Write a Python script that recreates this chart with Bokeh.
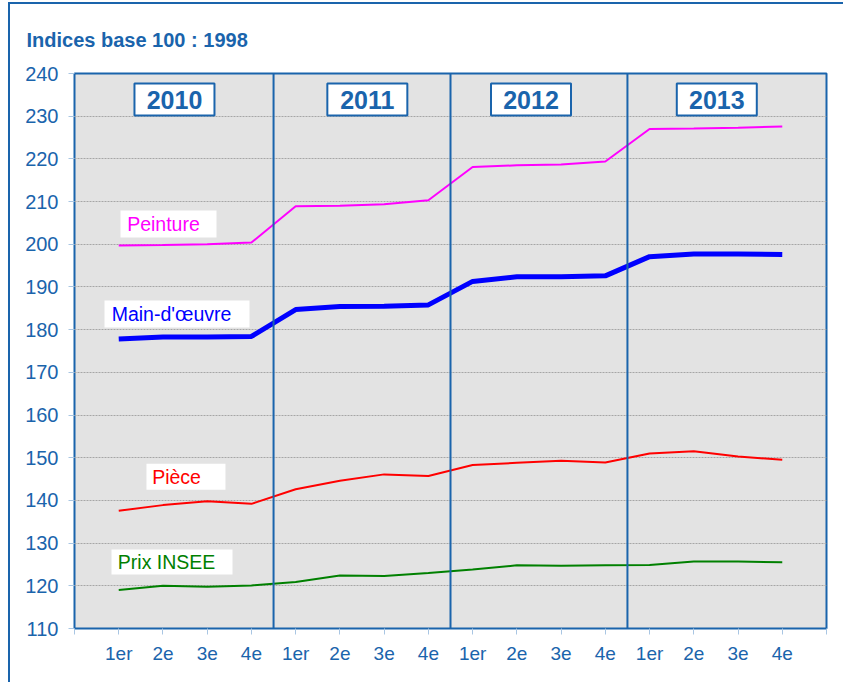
from bokeh.plotting import figure
from bokeh.models import FixedTicker, Span, ColumnDataSource
from bokeh.core.properties import value
from bokeh.embed import file_html
from bokeh.resources import INLINE

# ---- data ----
years = ["2010", "2011", "2012", "2013"]
quarter_labels = ["1er", "2e", "3e", "4e"]
quarters = [q for y in years for q in quarter_labels]

peinture = [199.7, 199.8, 200.0, 200.4, 208.9, 209.0, 209.4, 210.3,
            218.1, 218.5, 218.7, 219.4, 227.0, 227.1, 227.3, 227.6]
main_oeuvre = [177.8, 178.3, 178.3, 178.4, 184.7, 185.4, 185.5, 185.8,
               191.3, 192.4, 192.4, 192.6, 197.1, 197.7, 197.7, 197.6]
piece = [137.6, 138.9, 139.8, 139.2, 142.6, 144.6, 146.1, 145.7,
         148.3, 148.8, 149.3, 148.9, 151.0, 151.5, 150.3, 149.5]
prix_insee = [119.0, 120.0, 119.8, 120.1, 120.9, 122.4, 122.3, 123.0,
              123.8, 124.8, 124.7, 124.8, 124.9, 125.7, 125.7, 125.5]

y_ticks = [110, 120, 130, 140, 150, 160, 170, 180, 190, 200, 210, 220, 230, 240]
title_text = "Indices base 100 : 1998"

# ---- style ----
BLUE = "#1a64ac"
FONT = "Liberation Sans"

x = list(range(1, len(quarters) + 1))
n = len(quarters)

p = figure(width=835, height=680, output_backend="svg", toolbar_location=None,
           x_range=(0, n + 1), y_range=(y_ticks[0], y_ticks[-1]),
           min_border_left=64, min_border_right=19, min_border_top=58, min_border_bottom=56,
           background_fill_color="#e3e3e3", border_fill_color="white",
           outline_line_color=BLUE, outline_line_width=2,
           styles={"border-left": "2px solid " + BLUE, "border-top": "2px solid " + BLUE,
                   "margin-top": "2px", "margin-left": "8px"})

p.title.text = title_text
p.title.align = "left"
p.title.offset = -48
p.title.standoff = 45
p.title.text_font = FONT
p.title.text_font_size = "20px"
p.title.text_font_style = "bold"
p.title.text_color = BLUE

# axes
p.yaxis.ticker = FixedTicker(ticks=y_ticks)
p.xaxis.ticker = FixedTicker(ticks=list(range(0, n + 2)))
overrides = {i: "" for i in range(0, n + 2)}
for i, q in zip(x, quarters):
    overrides[i] = q
p.xaxis.major_label_overrides = overrides

for ax in (p.xaxis, p.yaxis):
    ax.axis_line_color = None
    ax.major_tick_in = 0
    ax.major_tick_out = 6
    ax.major_tick_line_color = "#a9c6e3"
    ax.major_tick_line_width = 1
    ax.minor_tick_line_color = None
    ax.major_label_text_font = FONT
    ax.major_label_text_color = BLUE
p.yaxis.major_label_text_font_size = "20px"
p.xaxis.major_label_text_font_size = "19px"
p.yaxis.major_label_standoff = 10
p.xaxis.major_label_standoff = 8

p.xgrid.grid_line_color = None
p.ygrid.grid_line_color = "#a6a6a6"
p.ygrid.grid_line_dash = "2 1"
p.ygrid.grid_line_width = 1

# year separators
per_year = len(quarter_labels)
for k in range(1, len(years)):
    p.add_layout(Span(location=k * per_year + 0.5, dimension="height",
                      line_color=BLUE, line_width=2))

# series
p.line(x, peinture, line_color="#ff00ff", line_width=2)
p.line(x, main_oeuvre, line_color="#0000ff", line_width=5)
p.line(x, piece, line_color="#ff0000", line_width=2)
p.line(x, prix_insee, line_color="#008000", line_width=2)

# year boxes
year_x = [2.26, 6.62, 10.32, 14.52]
year_y = [233.9] * len(years)
ysrc = ColumnDataSource(dict(x=year_x, y=year_y, t=years))
p.rect("x", "y", width=80, height=32, width_units="screen", height_units="screen",
       fill_color="white", line_color=BLUE, line_width=2, source=ysrc)
p.text("x", "y", text="t", source=ysrc, text_font=value(FONT), text_font_size="25px",
       text_font_style="bold", text_color=BLUE, text_align="center", text_baseline="middle")

# series labels
labels = ["Peinture", "Main-d'\u0153uvre", "Pi\u00e8ce", "Prix INSEE"]
lab_colors = ["#ff00ff", "#0000ff", "#ff0000", "#008000"]
box_x = [2.125, 2.317, 2.52, 2.204]
box_y = [204.75, 183.67, 145.54, 125.58]
box_w = [96, 145, 79, 121]
box_h = [27, 27, 26, 25]
txt_x = [1.19, 0.84, 1.756, 0.98]
lsrc = ColumnDataSource(dict(bx=box_x, by=box_y, bw=box_w, bh=box_h,
                             tx=txt_x, t=labels, c=lab_colors))
p.rect("bx", "by", width="bw", height="bh", width_units="screen", height_units="screen",
       fill_color="white", line_color=None, source=lsrc)
p.text("tx", "by", text="t", text_color="c", source=lsrc, text_font=value(FONT),
       text_font_size="19.5px", text_align="left", text_baseline="middle")

open("out.html", "w").write(file_html(p, INLINE))
